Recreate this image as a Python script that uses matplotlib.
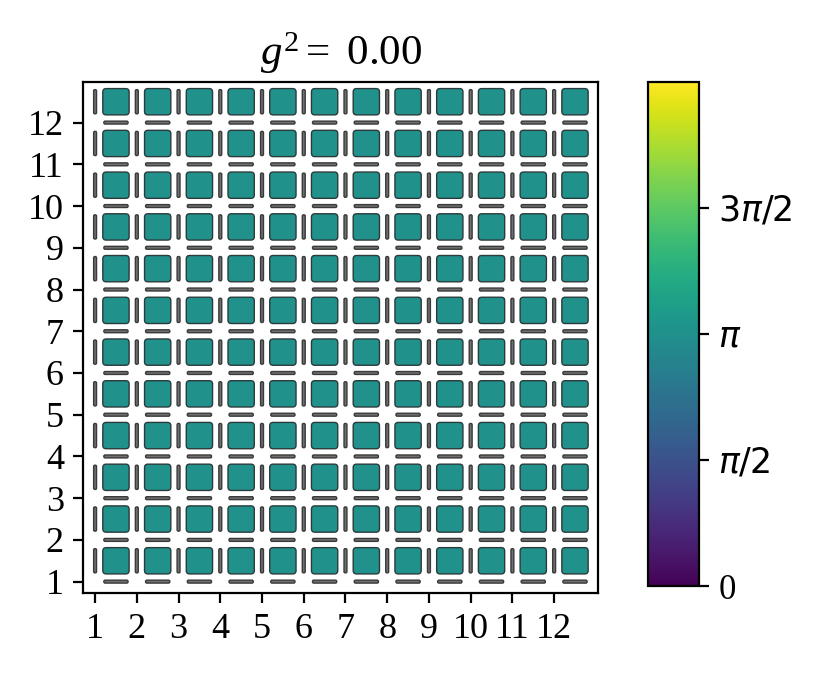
import numpy as np
import matplotlib
matplotlib.use("Agg")
from matplotlib import pyplot as plt
from matplotlib.patches import FancyBboxPatch
from matplotlib import cm, colors

plt.rcParams['font.family'] = ['Liberation Serif', 'DejaVu Serif']
plt.rcParams['mathtext.fontset'] = 'custom'
plt.rcParams['mathtext.rm'] = 'Liberation Serif'
plt.rcParams['mathtext.it'] = 'Liberation Serif:italic'

# lattice data (12 x 12 sites, all plaquette phases equal to pi)
sites = list(range(1, 13))
plaquette_phase = [[np.pi] * 12 for _ in range(12)]
g2 = 0.00
cbar_ticks = [0, np.pi / 2, np.pi, 3 * np.pi / 2]
cbar_labels = ['0', r'$\pi/2$', r'$\pi$', r'$3\pi/2$']

fig = plt.figure(figsize=(4.15, 3.39), dpi=200)
ax = fig.add_axes([0.1004, 0.1249, 0.6201, 0.7546])
cax = fig.add_axes([0.781, 0.135, 0.061, 0.7445])

cmap = plt.get_cmap('viridis')
norm = colors.Normalize(vmin=0, vmax=2 * np.pi)

plaq = 0.63
rad = 0.08
link_len = 0.58
link_w = 0.07
lr = 0.03

for i, x in enumerate(sites):
    for j, y in enumerate(sites):
        # plaquette
        ax.add_patch(FancyBboxPatch((x + 0.5 - plaq / 2 + rad, y + 0.5 - plaq / 2 + rad),
                                    plaq - 2 * rad, plaq - 2 * rad,
                                    boxstyle="round,pad=%g" % rad,
                                    fc=cmap(norm(plaquette_phase[j][i])), ec='#2b3b3b', lw=0.5, zorder=2))
        # vertical link
        ax.add_patch(FancyBboxPatch((x - link_w / 2 + lr, y + 0.5 - link_len / 2 + lr),
                                    link_w - 2 * lr, link_len - 2 * lr,
                                    boxstyle="round,pad=%g" % lr,
                                    fc='#707070', ec='#3a3a3a', lw=0.5, zorder=2))
        # horizontal link
        ax.add_patch(FancyBboxPatch((x + 0.5 - link_len / 2 + lr, y - link_w / 2 + lr),
                                    link_len - 2 * lr, link_w - 2 * lr,
                                    boxstyle="round,pad=%g" % lr,
                                    fc='#707070', ec='#3a3a3a', lw=0.5, zorder=2))

ax.set_xlim(0.72, 13.05)
ax.set_ylim(0.72, 12.98)
ax.set_aspect('equal')
ax.set_xticks(sites)
ax.set_yticks(sites)
ax.tick_params(labelsize=13)
for s in ax.spines.values():
    s.set_linewidth(0.8)
ax.set_title('$g^2 =$ %.2f' % g2, fontsize=15.5, pad=6)

sm = cm.ScalarMappable(norm=norm, cmap=cmap)
cb = fig.colorbar(sm, cax=cax, ticks=cbar_ticks)
cb.ax.set_yticklabels(cbar_labels)
cb.ax.tick_params(labelsize=12.5)
for t in cb.ax.get_yticklabels():
    t.set_math_fontfamily('dejavusans')
cb.outline.set_linewidth(0.8)

fig.savefig('out.png', dpi=200)
